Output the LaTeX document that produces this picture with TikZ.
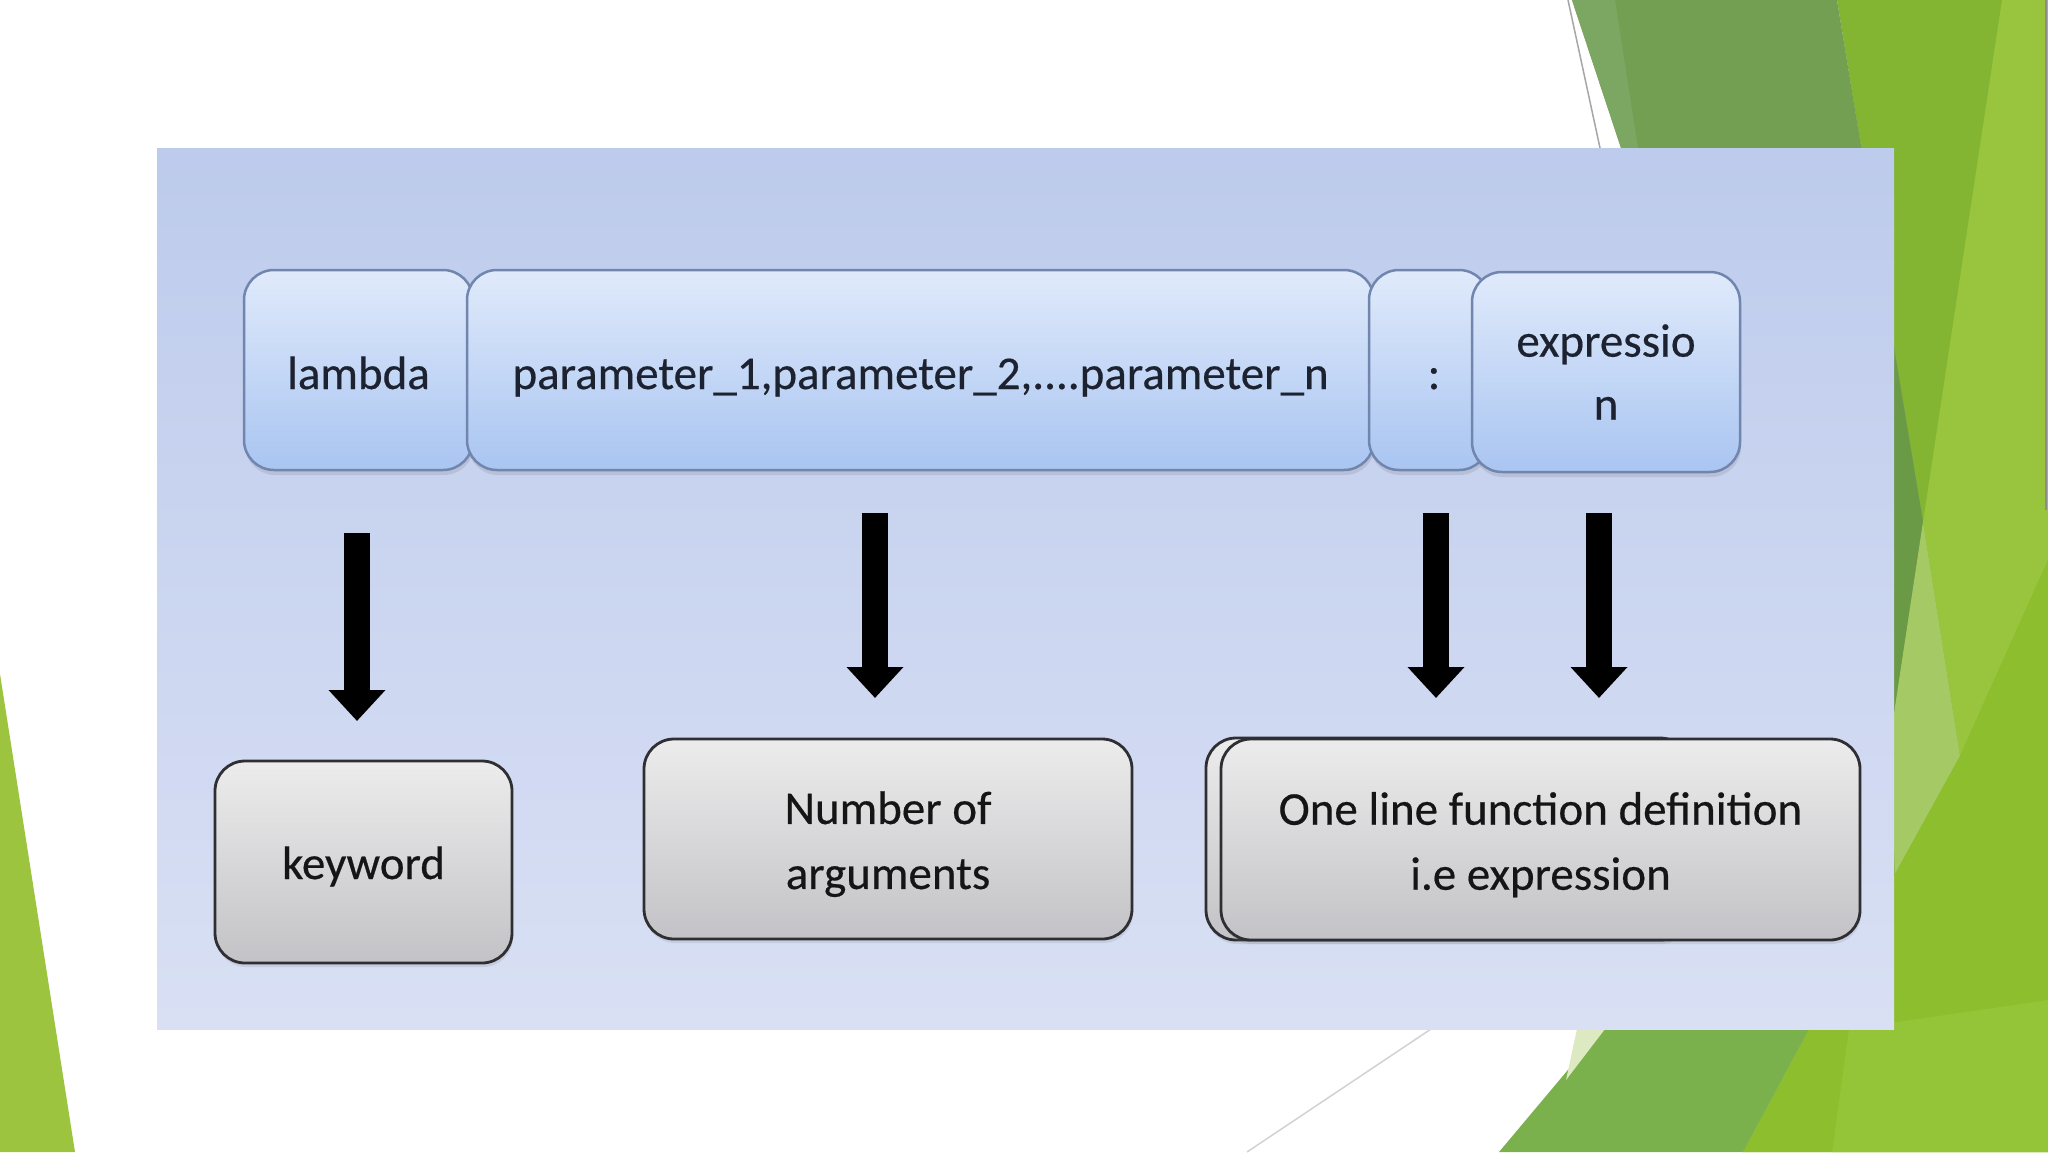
\documentclass[tikz,border=0pt]{standalone}
\usepackage{fontspec}
\setmainfont{Carlito}
\newfontfamily\diagfont{Carlito}[FakeBold=0.4]
\usetikzlibrary{arrows.meta,shadows}
\definecolor{gDark}{HTML}{739F52}
\definecolor{gDarkStrip}{HTML}{7BA762}
\definecolor{gDarker}{HTML}{6B9A47}
\definecolor{gBright}{HTML}{83B532}
\definecolor{gLight}{HTML}{99C43E}
\definecolor{gPale}{HTML}{A4C965}
\definecolor{gYG}{HTML}{8DBE2D}
\definecolor{gYG2}{HTML}{94C437}
\definecolor{gMid}{HTML}{7BB14D}
\definecolor{gSliver}{HTML}{DDE9C0}
\definecolor{gLeft}{HTML}{9CC43F}
\definecolor{panelTop}{HTML}{BDCBEC}
\definecolor{panelBot}{HTML}{D9E0F4}
\definecolor{topA}{HTML}{E0EAFB}
\definecolor{topB}{HTML}{A9C5F1}
\definecolor{topBorder}{HTML}{7086AE}
\definecolor{topText}{HTML}{1D2230}
\definecolor{botA}{HTML}{ECECEC}
\definecolor{botB}{HTML}{C3C3C7}
\definecolor{botBorder}{HTML}{2E2E33}
\definecolor{botText}{HTML}{151515}
\begin{document}
\begin{tikzpicture}[x=1pt,y=-1pt,
  topbox/.style={draw=topBorder, line width=2.5pt, rounded corners=30pt,
    top color=topA, bottom color=topB, inner sep=0pt, text=topText,
    font=\diagfont\fontsize{47}{63}\selectfont, align=center, minimum height=200pt,
    drop shadow={shadow xshift=1pt, shadow yshift=-5pt, opacity=0.22}},
  oneline/.style={text height=38pt, text depth=0pt},
  botbox/.style={draw=botBorder, line width=2.8pt, rounded corners=30pt,
    top color=botA, bottom color=botB, inner sep=0pt, text=botText,
    font=\diagfont\fontsize{47}{65}\selectfont, align=center,
    drop shadow={shadow xshift=1pt, shadow yshift=-4pt, opacity=0.18}},
  bigarrow/.style={line width=26pt, black, -{Triangle[length=31pt, width=55pt]}},
  deco/.style={line width=1.5pt}
]
\useasboundingbox (0,0) rectangle (2048,1152);
\fill[white] (0,0) rectangle (2048,1152);
% background facets
\fill[gLeft] (0,674) -- (75,1152) -- (0,1152) -- cycle;
\fill[gBright] (1837,0) -- (2048,0) -- (2048,1152) -- (1743,1152) -- (1809,1029) -- (1880,700) -- (1895,356) -- cycle;
\fill[gDark] (1572,0) -- (1837,0) -- (1923,522) -- (1890,740) -- (1650,600) -- (1621,148) -- cycle;
\fill[gDarkStrip] (1572,0) -- (1615,0) -- (1638,148) -- (1621,148) -- cycle;
\fill[gDarker] (1895,356) -- (1923,522) -- (1890,740) -- (1880,500) -- cycle;
\fill[gLight] (2002,0) -- (2048,0) -- (2048,560) -- (1960,756) -- (1923,522) -- cycle;
\fill[gPale] (1923,522) -- (1960,756) -- (1895,874) -- (1890,740) -- cycle;
\fill[gYG] (1895,874) -- (1960,756) -- (2048,560) -- (2048,1152) -- (1743,1152) -- (1809,1029) -- (1850,950) -- cycle;
\fill[gYG2] (1849,1029) -- (2048,1000) -- (2048,1152) -- (1832,1152) -- cycle;
\fill[gMid] (1635,990) -- (1830,990) -- (1743,1152) -- (1499,1152) -- cycle;
\fill[gSliver] (1577,1029) -- (1605,1029) -- (1566,1080) -- cycle;
\draw[deco, draw=gray!70] (1568,0) -- (1600,148);
\draw[deco, draw=gray!35] (1431,1029) -- (1247,1152);
\draw[line width=2pt, draw=black!45] (2046,0) -- (2046,510);
% panel
\node[inner sep=0pt, minimum width=1737pt, minimum height=881pt, top color=panelTop, bottom color=panelBot] (panel) at (1025.5,588.5) {};
% top row
\node[topbox, oneline, minimum width=229pt] (lambda) at (358.5,370) {lambda};
\node[topbox, oneline, minimum width=907pt] (param) at (920.5,370) {parameter\_1,parameter\_2,....parameter\_n};
\node[topbox, oneline, minimum width=120pt] (colon) at (1429,370) {\hspace*{10pt}:};
\node[topbox, minimum width=268pt] (expr) at (1606,372) {expressio\\n};
% bottom row
\node[botbox, text height=43pt, text depth=9pt, minimum width=297pt, minimum height=202pt] (keyword) at (363.5,862) {keyword};
\node[botbox, minimum width=488pt, minimum height=200pt] (nargs) at (888,839) {\rule{0pt}{43pt}Number of\\arguments};
\node[botbox, minimum width=484pt, minimum height=202pt] (oneback) at (1448,839) {};
\node[botbox, minimum width=639pt, minimum height=201pt] (oneline) at (1540.5,839.5) {\rule{0pt}{43pt}One line function definition\\i.e expression};
% arrows
\coordinate (a1s) at (357,533);
\coordinate (a1e) at (357,721);
\coordinate (a2s) at (875,513);
\coordinate (a2e) at (875,698);
\coordinate (a3s) at (1436,513);
\coordinate (a3e) at (1436,698);
\coordinate (a4s) at (1599,513);
\coordinate (a4e) at (1599,698);
\draw[bigarrow] (a1s) -- (a1e);
\draw[bigarrow] (a2s) -- (a2e);
\draw[bigarrow] (a3s) -- (a3e);
\draw[bigarrow] (a4s) -- (a4e);
\end{tikzpicture}
\end{document}
